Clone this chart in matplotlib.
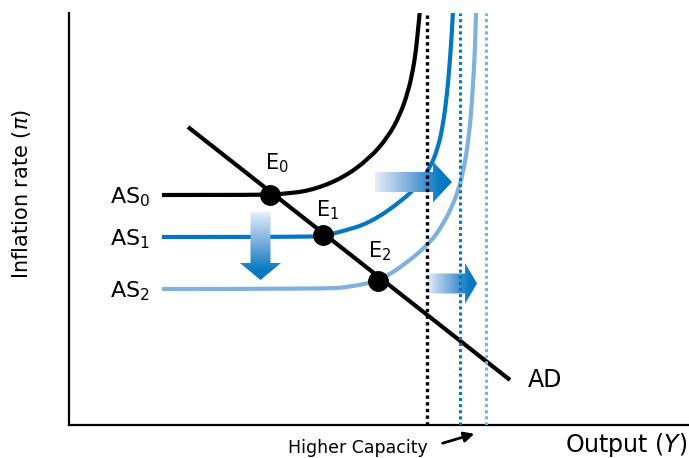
import numpy as np
import matplotlib.pyplot as plt
from matplotlib.colors import LinearSegmentedColormap
from matplotlib.patches import Polygon, PathPatch
from matplotlib.path import Path

plt.rcParams['font.family'] = ['DejaVu Sans']

# --- data (output on x, inflation on y; arbitrary schematic units) ---
as0_x = [93, 201, 211, 241, 274, 301, 319, 331, 339, 344, 347, 349, 351, 352]
as0_y = [230, 230, 231, 234, 247, 267, 288, 310, 333, 355, 375, 395, 415, 425]
as1_x = [93, 234, 254, 271, 301, 334, 349, 361, 369, 374, 378, 381, 383, 384, 385]
as1_y = [188, 188, 189, 193, 202, 225, 240, 257, 277, 300, 330, 365, 395, 415, 425]
as2_x = [93, 254, 281, 309, 334, 361, 373, 383, 390, 395, 399, 402, 404, 406, 407, 408]
as2_y = [136, 136, 138, 144, 159, 182, 199, 218, 237, 257, 282, 310, 340, 375, 415, 425]
capacity_x = [358, 391, 417]
ad_x = [119, 441]
ad_y = [298, 45]
eq_x = [201, 254, 309]
eq_y = [230, 190, 144]
eq_labels = ['E$_0$', 'E$_1$', 'E$_2$']
as_labels = ['AS$_0$', 'AS$_1$', 'AS$_2$']
as_label_y = [230, 188, 136]
# shift arrows: tail -> tip
shift_x0 = [306, 358, 191.5]
shift_y0 = [243, 141.5, 213]
shift_x1 = [383, 408, 191.5]
shift_y1 = [243, 141.5, 145]
shift_head = [19, 12, 17]

black = '#000000'
blue = '#0077c0'
light = '#7eb0e0'

fig = plt.figure(figsize=(6.89, 4.58), dpi=100)
ax = fig.add_axes([69 / 689, 33 / 458, 620 / 689, 412 / 458])


def smooth_curve(xs, ys, color):
    # read points used as control points of a quadratic spline
    p = np.column_stack([xs, ys]).astype(float)
    verts = [p[0]]
    codes = [Path.MOVETO]
    for i in range(1, len(p) - 1):
        verts += [p[i], (p[i] + p[i + 1]) / 2]
        codes += [Path.CURVE3, Path.CURVE3]
    verts.append(p[-1])
    codes.append(Path.LINETO)
    patch = PathPatch(Path(verts, codes), facecolor='none', edgecolor=color, lw=3,
                      capstyle='butt', joinstyle='round', zorder=2)
    ax.add_patch(patch)


smooth_curve(as0_x, as0_y, black)
smooth_curve(as1_x, as1_y, blue)
smooth_curve(as2_x, as2_y, light)
ax.plot(ad_x, ad_y, color=black, lw=3, solid_capstyle='butt', zorder=2)

# gradient block arrows
cmap = LinearSegmentedColormap.from_list('shift', [(0, '#e6eef8'), (0.5, '#6aa6d9'), (0.85, '#0a7ac1'), (1, blue)])
for x0, y0, x1, y1, hl in zip(shift_x0, shift_y0, shift_x1, shift_y1, shift_head):
    d = np.array([x1 - x0, y1 - y0])
    L = np.hypot(*d)
    u = d / L
    n = np.array([-u[1], u[0]])
    p0 = np.array([x0, y0])
    p1 = np.array([x1, y1])
    base = p0 + u * (L - hl)
    bw, hw = 20, 41
    pts = [p0 + n * bw / 2, base + n * bw / 2, base + n * hw / 2, p1,
           base - n * hw / 2, base - n * bw / 2, p0 - n * bw / 2]
    poly = Polygon(pts, closed=True, facecolor='none', edgecolor='none')
    ax.add_patch(poly)
    pts = np.array(pts)
    xmin, ymin = pts.min(axis=0)
    xmax, ymax = pts.max(axis=0)
    X, Y = np.meshgrid(np.linspace(xmin, xmax, 200), np.linspace(ymin, ymax, 200))
    t = np.clip(((X - x0) * u[0] + (Y - y0) * u[1]) / L, 0, 1)
    im = ax.imshow(t, extent=(xmin, xmax, ymin, ymax), origin='lower', cmap=cmap,
                   vmin=0, vmax=1, aspect='auto', interpolation='bilinear', zorder=3)
    im.set_clip_path(poly)

for x, c, w in zip(capacity_x, [black, blue, light], [2.4, 2.2, 2.2]):
    ax.plot([x, x], [0, 412], color=c, lw=w, linestyle=(0, (1, 1)), dash_capstyle='butt', zorder=4)

ax.plot(eq_x, eq_y, 'o', color=black, markersize=14, zorder=5)

for lab, x, y in zip(eq_labels, [196, 247, 299], [256, 209, 168]):
    ax.text(x, y, lab, fontsize=15, ha='left', va='baseline')
for lab, y in zip(as_labels, as_label_y):
    ax.text(81, y - 8, lab, fontsize=16, ha='right', va='baseline')
ax.text(459, 38, 'AD', fontsize=17, ha='left', va='baseline')

ax.text(-47, 231, r'Inflation rate ($\pi$)', fontsize=15, rotation=90, ha='center', va='center', clip_on=False)
ax.text(618, -27, r'Output ($Y$)', fontsize=17, ha='right', va='baseline', clip_on=False)
ax.text(219, -28, 'Higher Capacity', fontsize=12.5, ha='left', va='baseline', clip_on=False)
ax.annotate('', xy=(408, -8), xytext=(371, -19), annotation_clip=False,
            arrowprops=dict(arrowstyle='-|>,head_length=0.6,head_width=0.3', color=black, lw=2))

ax.set_xlim(0, 620)
ax.set_ylim(0, 412)
ax.set_xticks([])
ax.set_yticks([])
for s in ['top', 'right']:
    ax.spines[s].set_visible(False)
for s in ['left', 'bottom']:
    ax.spines[s].set_linewidth(1.6)

fig.savefig('out.png', dpi=100)
